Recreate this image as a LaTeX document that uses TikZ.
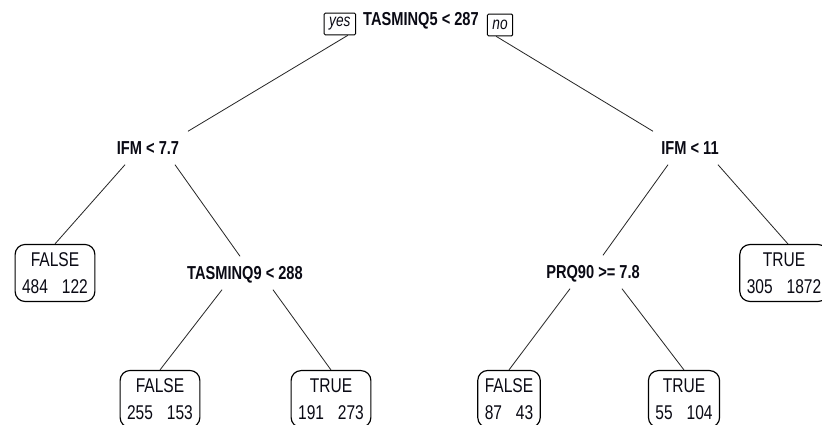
\documentclass[tikz,border=0pt]{standalone}
\usepackage{fontspec}
\newfontfamily\treefont[FakeStretch=0.78]{Liberation Sans}
\usetikzlibrary{
  positioning
}
\definecolor{branchcolor}{RGB}{40, 40, 40}
\definecolor{labelcolor}{RGB}{10, 10, 20}
\newcommand{\cnt}[2]{#1\hspace{0.7em}#2}
\tikzset{
splitnode/.style={
  font=\treefont\fontsize{16}{18}\selectfont\bfseries,
  text=labelcolor,
  text height=3.9mm,
  text depth=0mm,
  inner xsep=0mm,
  inner ysep=3mm
},
leafnode/.style={
  draw=black,
  fill=white,
  line width=1pt,
  rounded corners=3mm,
  align=center,
  font=\treefont\fontsize{17}{23}\selectfont,
  text=labelcolor,
  inner xsep=2.1mm,
  inner ysep=2.4mm
},
yesno/.style={
  draw=black,
  fill=white,
  line width=0.8pt,
  rounded corners=1pt,
  font=\treefont\fontsize{15}{17}\selectfont\itshape,
  text=labelcolor,
  minimum height=6.5mm,
  inner xsep=1.5mm,
  inner ysep=0mm
},
branch/.style={
  draw=branchcolor,
  line width=0.7pt
}
}
\begin{document}
\begin{tikzpicture}[x=0.3mm, y=-0.3mm]
  \useasboundingbox (0,0) rectangle (822,425);

  % splits
  \node[splitnode] (root) at (421,19) {TASMINQ5 < 287};
  \node[yesno, left=2.1mm of root, yshift=-1.5mm] (yes) {yes};
  \node[yesno, right=2.4mm of root, yshift=-1.8mm] (no) {no};
  \node[splitnode] (ifml) at (148,148) {IFM < 7.7};
  \node[splitnode] (ifmr) at (690,148) {IFM < 11};
  \node[splitnode] (tq9) at (245,273) {TASMINQ9 < 288};
  \node[splitnode] (prq) at (593,272) {PRQ90 >= 7.8};

  % leaves
  \node[leafnode] (leafa) at (55,273) {FALSE\\\cnt{484}{122}};
  \node[leafnode] (leafb) at (160,399) {FALSE\\\cnt{255}{153}};
  \node[leafnode] (leafc) at (331,399) {TRUE\\\cnt{191}{273}};
  \node[leafnode] (leafd) at (509,399) {FALSE\\\cnt{87}{43}};
  \node[leafnode] (leafe) at (684,399) {TRUE\\\cnt{55}{104}};
  \node[leafnode] (leaff) at (784,273) {TRUE\\\cnt{305}{1872}};

  % branches
  \draw[branch] ([xshift=2.4mm]yes.south) -- ([xshift=12mm]ifml.north);
  \draw[branch] ([xshift=-1.2mm]no.south) -- ([xshift=-11.1mm]ifmr.north);
  \draw[branch] ([xshift=-6.9mm]ifml.south) -- (leafa.north);
  \draw[branch] ([xshift=8.1mm]ifml.south) -- ([xshift=-1.5mm]tq9.north);
  \draw[branch] ([xshift=-6.6mm]ifmr.south) -- ([xshift=3mm]prq.north);
  \draw[branch] ([xshift=8.4mm]ifmr.south) -- ([xshift=1.2mm]leaff.north);
  \draw[branch] ([xshift=-6.9mm]tq9.south) -- (leafb.north);
  \draw[branch] ([xshift=8.4mm]tq9.south) -- (leafc.north);
  \draw[branch] ([xshift=-6.9mm]prq.south) -- (leafd.north);
  \draw[branch] ([xshift=8.7mm]prq.south) -- (leafe.north);
\end{tikzpicture}
\end{document}
